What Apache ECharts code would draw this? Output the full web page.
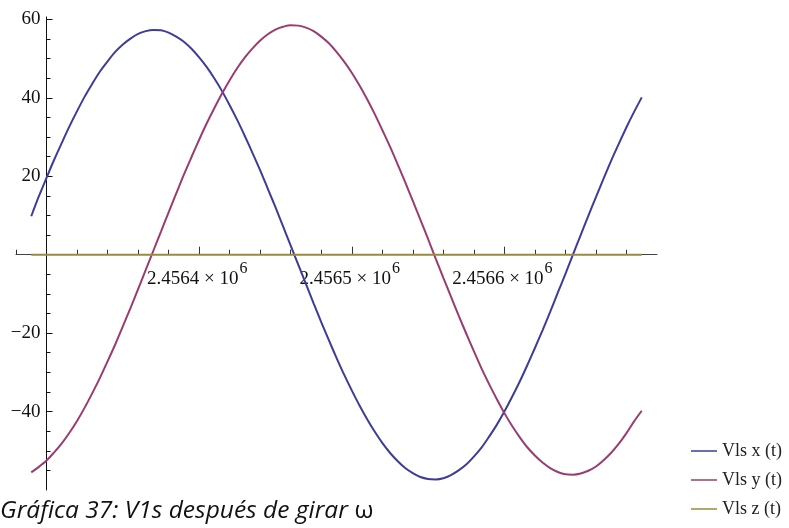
<!DOCTYPE html>
<html>
<head>
<meta charset="utf-8">
<script src="https://cdn.jsdelivr.net/npm/echarts@6/dist/echarts.min.js"></script>
<style>
  html, body { margin: 0; padding: 0; background: #fff; }
  #main { width: 789px; height: 528px; }
</style>
</head>
<body>
<div id="main"></div>
<script>
  // dias julianos (cada 5 dias)
  var days = [2456290, 2456295, 2456300, 2456305, 2456310, 2456315, 2456320, 2456325, 2456330, 2456335,
              2456340, 2456345, 2456350, 2456355, 2456360, 2456365, 2456370, 2456375, 2456380, 2456385,
              2456390, 2456395, 2456400, 2456405, 2456410, 2456415, 2456420, 2456425, 2456430, 2456435,
              2456440, 2456445, 2456450, 2456455, 2456460, 2456465, 2456470, 2456475, 2456480, 2456485,
              2456490, 2456495, 2456500, 2456505, 2456510, 2456515, 2456520, 2456525, 2456530, 2456535,
              2456540, 2456545, 2456550, 2456555, 2456560, 2456565, 2456570, 2456575, 2456580, 2456585,
              2456590, 2456595, 2456600, 2456605, 2456610, 2456615, 2456620, 2456625, 2456630, 2456635,
              2456640, 2456645, 2456650, 2456655, 2456660, 2456665, 2456670, 2456675, 2456680, 2456685,
              2456690];
  // componentes de V1s
  var vx = [9.8, 14.9, 19.6, 24.2, 28.5, 32.7, 36.6, 40.3, 43.6, 46.7,
            49.3, 51.7, 53.6, 55.1, 56.3, 57.0, 57.3, 57.2, 56.6, 55.6,
            54.3, 52.5, 50.3, 47.8, 44.9, 41.7, 38.1, 34.3, 30.2, 25.9,
            21.5, 16.8, 12.1, 7.2, 2.3, -2.6, -7.5, -12.4, -17.2, -21.8,
            -26.3, -30.6, -34.6, -38.4, -41.9, -45.1, -48.0, -50.5, -52.6, -54.4,
            -55.7, -56.7, -57.2, -57.3, -57.0, -56.2, -55.0, -53.5, -51.5, -49.2,
            -46.4, -43.4, -40.0, -36.3, -32.4, -28.2, -23.8, -19.3, -14.6, -9.7,
            -4.9, 0.1, 5.0, 9.9, 14.7, 19.4, 24.0, 28.3, 32.5, 36.4,
            40.1];
  var vy = [-55.5, -54.1, -52.5, -50.4, -48.1, -45.4, -42.4, -39.0, -35.3, -31.4,
            -27.2, -22.9, -18.3, -13.6, -8.8, -3.9, 1.0, 5.9, 10.8, 15.6,
            20.4, 24.9, 29.3, 33.5, 37.4, 41.1, 44.5, 47.6, 50.3, 52.6,
            54.6, 56.2, 57.4, 58.1, 58.5, 58.4, 57.9, 57.0, 55.6, 53.9,
            51.7, 49.2, 46.4, 43.2, 39.7, 35.9, 31.8, 27.6, 23.1, 18.5,
            13.7, 8.9, 4.0, -1.0, -5.9, -10.7, -15.5, -20.1, -24.6, -29.0,
            -33.0, -36.8, -40.4, -43.6, -46.5, -49.1, -51.2, -53.0, -54.4, -55.4,
            -56.0, -56.1, -55.8, -55.1, -54.0, -52.4, -50.5, -48.2, -45.5, -42.5,
            -39.8];
  var vz = [0, 0, 0, 0, 0, 0, 0, 0, 0, 0,
            0, 0, 0, 0, 0, 0, 0, 0, 0, 0,
            0, 0, 0, 0, 0, 0, 0, 0, 0, 0,
            0, 0, 0, 0, 0, 0, 0, 0, 0, 0,
            0, 0, 0, 0, 0, 0, 0, 0, 0, 0,
            0, 0, 0, 0, 0, 0, 0, 0, 0, 0,
            0, 0, 0, 0, 0, 0, 0, 0, 0, 0,
            0, 0, 0, 0, 0, 0, 0, 0, 0, 0,
            0];
  var seriesNames = ['Vls x (t)', 'Vls y (t)', 'Vls z (t)'];
  var colors = ['#3d3d99', '#993d71', '#998b3d'];

  // marcas de los ejes
  var xMajorTicks = [2456400, 2456500, 2456600];
  var xMinorTicks = [2456280, 2456320, 2456340, 2456360, 2456380, 2456420, 2456440, 2456460, 2456480,
                     2456520, 2456540, 2456560, 2456580, 2456620, 2456640, 2456660, 2456680];
  var yMajorTicks = [-40, -20, 20, 40, 60];
  var yMinorTicks = [-55, -50, -45, -35, -30, -25, -15, -10, -5, 5, 10, 15, 25, 30, 35, 45, 50, 55];

  function pairs(ys) {
    return days.map(function (d, i) { return [d, ys[i]]; });
  }

  var serif = 'Liberation Serif';
  var xMin = 2456280, xMax = 2456700;
  var yMin = -60, yMax = 60.6;
  var myChart = echarts.init(document.getElementById('main'));
  var option = {
    animation: false,
    backgroundColor: '#fff',
    color: colors,
    // grid 0: curvas; grid 1: termina en y = 0 y lleva el eje horizontal
    grid: [
      { left: 16, right: 132, top: 17, bottom: 38 },
      { left: 16, right: 132, top: 17, bottom: 273.3 }
    ],
    xAxis: [
      { type: 'value', gridIndex: 0, min: xMin, max: xMax, show: false },
      {
        type: 'value', gridIndex: 1, min: xMin, max: xMax, position: 'bottom',
        axisLine: { show: true, onZero: false, lineStyle: { color: '#444', width: 1 } },
        axisTick: { inside: true, length: 8, customValues: xMajorTicks, lineStyle: { color: '#333' } },
        axisLabel: {
          customValues: xMajorTicks,
          margin: 6,
          formatter: function (v) {
            return '{a|' + (v / 1e6).toFixed(4) + ' \u00d7 10}{b|6}';
          },
          rich: {
            a: { fontFamily: serif, fontSize: 19, color: '#111', lineHeight: 28, verticalAlign: 'bottom' },
            b: { fontFamily: serif, fontSize: 16, color: '#111', lineHeight: 16, verticalAlign: 'top', padding: [0, 4, 0, 1] }
          }
        },
        splitLine: { show: false }
      },
      {
        type: 'value', gridIndex: 1, min: xMin, max: xMax, position: 'bottom',
        axisLine: { show: false, onZero: false },
        axisTick: { inside: true, length: 5, customValues: xMinorTicks, lineStyle: { color: '#333' } },
        axisLabel: { show: false },
        splitLine: { show: false }
      }
    ],
    yAxis: [
      {
        type: 'value', gridIndex: 0, min: yMin, max: yMax, position: 'left', offset: -30.5,
        axisLine: { show: true, onZero: false, lineStyle: { color: '#111', width: 1 } },
        axisTick: { inside: true, length: 6, customValues: yMajorTicks, lineStyle: { color: '#111' } },
        axisLabel: {
          customValues: yMajorTicks,
          margin: 6,
          fontFamily: serif, fontSize: 19, color: '#111',
          formatter: function (v) { return v < 0 ? '\u2212' + (-v) : String(v); }
        },
        splitLine: { show: false }
      },
      {
        type: 'value', gridIndex: 0, min: yMin, max: yMax, position: 'left', offset: -30.5,
        axisLine: { show: false, onZero: false },
        axisTick: { inside: true, length: 4, customValues: yMinorTicks, lineStyle: { color: '#111' } },
        axisLabel: { show: false },
        splitLine: { show: false }
      },
      { type: 'value', gridIndex: 1, min: 0, max: 1, show: false }
    ],
    legend: {
      orient: 'vertical',
      left: 686, top: 437,
      icon: 'rect',
      itemWidth: 26, itemHeight: 1.5,
      itemGap: 11,
      textStyle: { fontFamily: serif, fontSize: 18, color: '#222' },
      data: seriesNames
    },
    graphic: [{
      type: 'text', left: 0, top: 499,
      style: {
        text: '{i|Gráfica 37: V1s después de girar}  {w|ω}',
        rich: {
          i: { fontFamily: 'Open Sans', fontStyle: 'italic', fontSize: 24.5, fill: '#111' },
          w: { fontFamily: 'Open Sans', fontSize: 24.5, fill: '#111' }
        }
      }
    }],
    series: [
      { name: seriesNames[0], type: 'line', xAxisIndex: 0, yAxisIndex: 0, data: pairs(vx), smooth: 0.3, symbol: 'none', lineStyle: { width: 2 } },
      { name: seriesNames[1], type: 'line', xAxisIndex: 0, yAxisIndex: 0, data: pairs(vy), smooth: 0.3, symbol: 'none', lineStyle: { width: 2 } },
      { name: seriesNames[2], type: 'line', xAxisIndex: 0, yAxisIndex: 0, data: pairs(vz), symbol: 'none', lineStyle: { width: 2 } }
    ]
  };
  myChart.setOption(option);
</script>
</body>
</html>
